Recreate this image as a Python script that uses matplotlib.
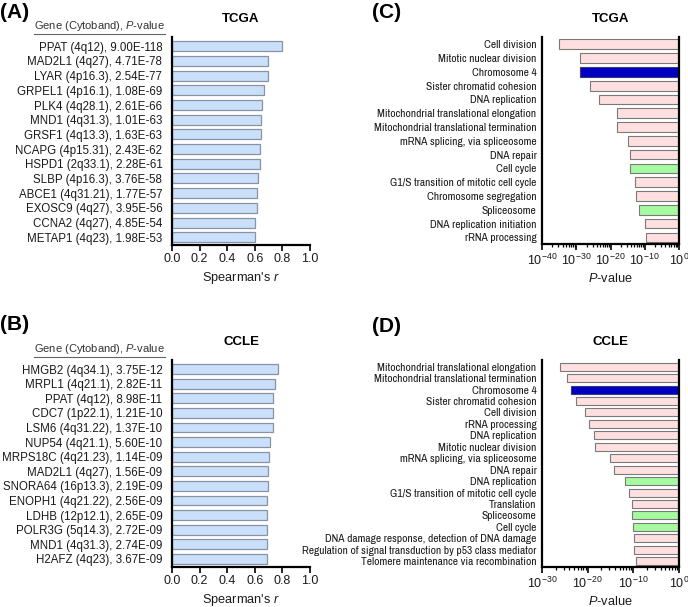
import matplotlib
matplotlib.use('Agg')
import matplotlib.pyplot as plt
import numpy as np
from matplotlib.ticker import FixedLocator, NullFormatter
from matplotlib import font_manager

plt.rcParams['font.family'] = ['Liberation Sans', 'DejaVu Sans']
plt.rcParams['mathtext.fontset'] = 'custom'
plt.rcParams['mathtext.rm'] = 'Liberation Sans'
plt.rcParams['mathtext.it'] = 'Liberation Sans:italic'
plt.rcParams['mathtext.bf'] = 'Liberation Sans:bold'

names = set(f.name for f in font_manager.fontManager.ttflist)
NARROW = [n for n in ['Liberation Sans Narrow', 'Archivo Narrow', 'Liberation Sans'] if n in names]

# ---------------- data ----------------
tcga_genes = ["PPAT (4q12), 9.00E-118", "MAD2L1 (4q27), 4.71E-78", "LYAR (4p16.3), 2.54E-77",
              "GRPEL1 (4p16.1), 1.08E-69", "PLK4 (4q28.1), 2.61E-66", "MND1 (4q31.3), 1.01E-63",
              "GRSF1 (4q13.3), 1.63E-63", "NCAPG (4p15.31), 2.43E-62", "HSPD1 (2q33.1), 2.28E-61",
              "SLBP (4p16.3), 3.76E-58", "ABCE1 (4q31.21), 1.77E-57", "EXOSC9 (4q27), 3.95E-56",
              "CCNA2 (4q27), 4.85E-54", "METAP1 (4q23), 1.98E-53"]
tcga_r = [0.800, 0.698, 0.696, 0.669, 0.655, 0.647, 0.647, 0.640, 0.638, 0.621, 0.618, 0.616, 0.604, 0.604]

ccle_genes = ["HMGB2 (4q34.1), 3.75E-12", "MRPL1 (4q21.1), 2.82E-11", "PPAT (4q12), 8.98E-11",
              "CDC7 (1p22.1), 1.21E-10", "LSM6 (4q31.22), 1.37E-10", "NUP54 (4q21.1), 5.60E-10",
              "MRPS18C (4q21.23), 1.14E-09", "MAD2L1 (4q27), 1.56E-09", "SNORA64 (16p13.3), 2.19E-09",
              "ENOPH1 (4q21.22), 2.56E-09", "LDHB (12p12.1), 2.65E-09", "POLR3G (5q14.3), 2.72E-09",
              "MND1 (4q31.3), 2.74E-09", "H2AFZ (4q23), 3.67E-09"]
ccle_r = [0.771, 0.746, 0.734, 0.732, 0.732, 0.713, 0.705, 0.698, 0.696, 0.691, 0.691, 0.691, 0.691, 0.686]

tcga_terms = ["Cell division", "Mitotic nuclear division", "Chromosome 4", "Sister chromatid cohesion",
              "DNA replication", "Mitochondrial translational elongation",
              "Mitochondrial translational termination", "mRNA splicing, via spliceosome", "DNA repair",
              "Cell cycle", "G1/S transition of mitotic cell cycle", "Chromosome segregation",
              "Spliceosome", "DNA replication initiation", "rRNA processing"]
tcga_p = [1.1e-35, 1.6e-29, 1.6e-29, 1.3e-26, 5e-24, 8e-19, 8e-19, 1.3e-15, 6e-15, 6e-15,
          1.6e-13, 3e-13, 2e-12, 1.3e-10, 2.5e-10]
tcga_kind = ["GO", "GO", "CHR", "GO", "GO", "GO", "GO", "GO", "GO", "KEGG", "GO", "GO", "KEGG", "GO", "GO"]

ccle_terms = ["Mitochondrial translational elongation", "Mitochondrial translational termination",
              "Chromosome 4", "Sister chromatid cohesion", "Cell division", "rRNA processing",
              "DNA replication", "Mitotic nuclear division", "mRNA splicing, via spliceosome",
              "DNA repair", "DNA replication", "G1/S transition of mitotic cell cycle", "Translation",
              "Spliceosome", "Cell cycle", "DNA damage response, detection of DNA damage",
              "Regulation of signal transduction by p53 class mediator",
              "Telomere maintenance via recombination"]
ccle_p = [1e-26, 3e-25, 2e-24, 3e-23, 3e-21, 2e-20, 2.5e-19, 5e-19, 8e-16, 6e-15, 1.3e-12,
          1.3e-11, 4e-11, 6e-11, 8e-11, 1.6e-10, 1.6e-10, 4e-10]
ccle_kind = ["GO", "GO", "CHR", "GO", "GO", "GO", "GO", "GO", "GO", "GO", "KEGG", "GO", "GO",
             "KEGG", "KEGG", "GO", "GO", "GO"]

# ---------------- style ----------------
BLUE = '#cadff9'
BLUE_EDGE = '#8894a4'
KIND_COL = {"GO": '#ffdfdf', "CHR": '#0000c2', "KEGG": '#a6fba0'}
KIND_EDGE = {"GO": '#7a7a7a', "CHR": '#3a3a7a', "KEGG": '#7a7a7a'}
TXT = '#1a1a1a'

W, H = 688, 607
fig = plt.figure(figsize=(W / 100, H / 100), dpi=100)


def rect(l, t, r, b):
    return [l / W, 1 - b / H, (r - l) / W, (b - t) / H]


def corr_panel(box, genes, r, title, ylim):
    ax = fig.add_axes(rect(*box))
    y = np.arange(len(genes))
    ax.barh(y, r, height=0.68, color=BLUE, edgecolor=BLUE_EDGE, linewidth=0.9)
    ax.set_ylim(*ylim)
    ax.set_xlim(0, 1.0)
    ax.set_yticks(y)
    ax.set_yticklabels(genes, fontsize=8.3, color=TXT)
    ax.tick_params(axis='y', length=0, pad=7)
    ticks = np.arange(0, 1.01, 0.2)
    ax.set_xticks(ticks)
    ax.set_xticklabels([f"{v:.1f}" for v in ticks], fontsize=9, color=TXT)
    ax.tick_params(axis='x', length=4, width=1.2, pad=2)
    for s in ['top', 'right']:
        ax.spines[s].set_visible(False)
    for s in ['left', 'bottom']:
        ax.spines[s].set_linewidth(1.6)
    ax.set_xlabel(r"Spearman's $\mathit{r}$", fontsize=9.2, labelpad=3.5, color=TXT)
    ax.set_title(title, fontsize=9.5, fontweight='bold', pad=11)
    return ax


def enrich_panel(box, terms, p, kinds, title, ylim, lo):
    ax = fig.add_axes(rect(*box))
    y = np.arange(len(terms))
    p = np.array(p)
    ax.barh(y, 1 - p, left=p, height=0.7,
            color=[KIND_COL[k] for k in kinds], edgecolor=[KIND_EDGE[k] for k in kinds],
            linewidth=0.8)
    ax.set_xscale('log')
    ax.set_xlim(10.0 ** lo, 1)
    ax.set_ylim(*ylim)
    ax.set_yticks(y)
    ax.set_yticklabels(terms, fontsize=8.25, family=NARROW, color=TXT)
    ax.tick_params(axis='y', length=0, pad=4)
    majors = np.arange(lo, 1, 10)
    ax.xaxis.set_major_locator(FixedLocator(10.0 ** majors))
    ax.set_xticklabels([r"$\mathregular{10^{%d}}$" % m for m in majors], fontsize=9, color=TXT)
    minors = [10.0 ** (m + 10 * np.log10(k)) for m in majors[:-1] for k in range(2, 10)]
    ax.xaxis.set_minor_locator(FixedLocator(minors))
    ax.xaxis.set_minor_formatter(NullFormatter())
    ax.tick_params(axis='x', which='major', length=4, width=1.2, pad=2)
    ax.tick_params(axis='x', which='minor', length=2.2, width=0.9)
    ax.spines['top'].set_visible(False)
    for s in ['left', 'bottom', 'right']:
        ax.spines[s].set_linewidth(1.6)
    ax.set_xlabel(r"$\mathit{P}$-value", fontsize=9.2, labelpad=3.5, color=TXT)
    ax.set_title(title, fontsize=9.5, fontweight='bold', pad=11)
    return ax


axA = corr_panel((172, 37, 310, 245), tcga_genes, tcga_r, "TCGA", (13.53, -0.63))
axB = corr_panel((172, 360, 310, 567), ccle_genes, ccle_r, "CCLE", (13.55, -0.62))
axC = enrich_panel((542, 37, 679, 244), tcga_terms, tcga_p, tcga_kind, "TCGA", (14.48, -0.53), -40)
axD = enrich_panel((542, 360, 679, 567), ccle_terms, ccle_p, ccle_kind, "CCLE", (17.5, -0.58), -30)

# panel letters
for lab, x, y in [("(A)", 0, 12), ("(B)", 0, 325), ("(C)", 372, 13), ("(D)", 372, 326)]:
    fig.text(x / W, 1 - y / H, lab, fontsize=15, fontweight='bold', ha='left', va='center')

# header with underline
fig.canvas.draw()
renderer = fig.canvas.get_renderer()
for yc in [26, 349]:
    t = fig.text(165 / W, 1 - yc / H, r"Gene (Cytoband), $\mathit{P}$-value", fontsize=8.0,
                 ha='right', va='center', color='#333333')
    bb = t.get_window_extent(renderer=renderer)
    x0, x1 = bb.x0 / W, bb.x1 / W
    yl = (bb.y0 - 0.5) / H
    fig.add_artist(plt.Line2D([x0, x1], [yl, yl], transform=fig.transFigure, color='#666666', lw=0.8))

fig.savefig('out.png', dpi=100)
